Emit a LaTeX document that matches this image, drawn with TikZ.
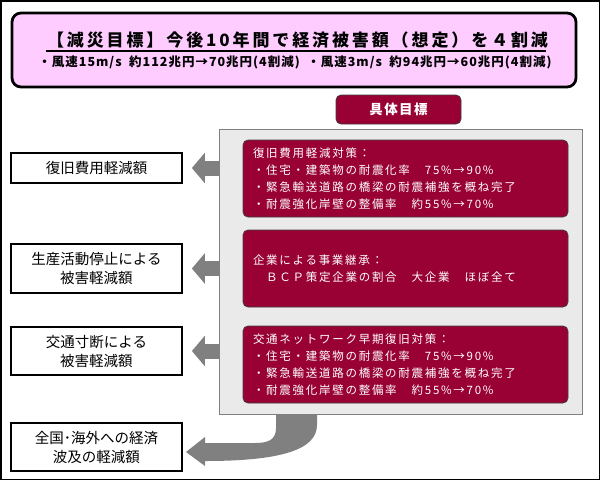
\documentclass[tikz,border=0pt]{standalone}
\usepackage{fontspec}
\setmainfont{Noto Sans CJK JP}
\newfontfamily\jpls[LetterSpace=15]{Noto Sans CJK JP}
\newfontfamily\ttlfont[LetterSpace=17]{Noto Sans CJK JP}
\newfontfamily\subfont[LetterSpace=8]{Noto Sans CJK JP}
\newfontfamily\goalfont[LetterSpace=10]{Noto Sans CJK JP}
\usetikzlibrary{arrows.meta,calc}
\definecolor{dred}{RGB}{153,0,51}
\definecolor{pinkc}{RGB}{255,204,255}
\definecolor{panelgray}{RGB}{234,234,234}
\definecolor{arrgray}{RGB}{128,128,128}
\begin{document}
\begin{tikzpicture}[x=1pt,y=-1pt,
  redbox/.style={draw=black!75, fill=dred, rounded corners=5pt, line width=0.8pt,
    minimum width=325pt, minimum height=77pt, text width=305pt, inner xsep=10pt,
    align=left, text=white, font=\jpls\fontsize{11.5}{16.8}\selectfont},
  leftbox/.style={draw=black, line width=1.8pt, fill=white, minimum width=171pt,
    align=center, font=\fontsize{14.5}{19}\selectfont},
  garrow/.style={draw=arrgray, line width=15pt,
    -{Triangle[width=30pt,length=13pt]}}]
\useasboundingbox (0,0) rectangle (600,480);
\draw[line width=1.5pt] (0.75,0.75) rectangle (599.25,479.25);
% header
\node[draw=black, line width=2.8pt, fill=pinkc, rounded corners=9pt,
  minimum width=564pt, minimum height=74pt] (head) at (294,50) {};
\node[inner sep=0pt] (title) at (297.5,40.5) {\ttlfont\fontsize{17}{20}\selectfont\bfseries 【減災目標】今後10年間で経済被害額（想定）を４割減};
\coordinate (ul) at (0,51);
\draw[line width=1.3pt, black] ($(title.west |- ul)+(-1,0)$) -- ($(title.east |- ul)+(-2,0)$);
\node (sub) at (295,62.5) {\subfont\fontsize{12.5}{15}\selectfont\bfseries ・風速15m/s\hspace{0.6em}約112兆円→70兆円(4割減)\hspace{0.6em}・風速3m/s\hspace{0.6em}約94兆円→60兆円(4割減)};
% bottom curved arrow
\fill[arrgray] (276,412) -- (276,428) .. controls (276,440) and (268,443) .. (255,443)
  -- (205,443) -- (205,437) -- (186,452) -- (205,466) -- (205,461)
  .. controls (280,461) and (317,450) .. (317,425) -- (317,412) -- cycle;
% panel
\node[draw=arrgray, line width=1pt, fill=panelgray, minimum width=363pt, minimum height=285pt] (panel) at (400.5,271.5) {};
\node[fill=dred, draw=black!75, line width=0.8pt, rounded corners=5pt, minimum width=125pt,
  minimum height=29pt, text=white, font=\goalfont\fontsize{13.5}{16}\selectfont\bfseries] (goal) at (398.5,109.5) {具体目標};
\node[redbox] (r1) at (405.5,178.5) {復旧費用軽減対策：\\・住宅・建築物の耐震化率　75\%→90\%\\・緊急輸送道路の橋梁の耐震補強を概ね完了\\・耐震強化岸壁の整備率　約55\%→70\%};
\node[redbox] (r2) at (405.5,268.5) {企業による事業継承：\\　ＢＣＰ策定企業の割合　大企業　ほぼ全て};
\node[redbox] (r3) at (405.5,364.5) {交通ネットワーク早期復旧対策：\\・住宅・建築物の耐震化率　75\%→90\%\\・緊急輸送道路の橋梁の耐震補強を概ね完了\\・耐震強化岸壁の整備率　約55\%→70\%};
% left boxes
\node[leftbox, minimum height=30pt] (A) at (96.5,168) {復旧費用軽減額};
\node[leftbox, minimum height=49pt] (B) at (96.5,268.5) {生産活動停止による\\被害軽減額};
\node[leftbox, minimum height=48pt] (C) at (96.5,351) {交通寸断による\\被害軽減額};
\node[leftbox, minimum height=48pt] (D) at (96.5,447) {全国･海外への経済\\波及の軽減額};
% arrows
\draw[garrow] (panel.west |- A.east) -- ($(A.east)+(9,0)$);
\draw[garrow] (panel.west |- B.east) -- ($(B.east)+(9,0)$);
\draw[garrow] (panel.west |- C.east) -- ($(C.east)+(9,0)$);
\end{tikzpicture}
\end{document}
